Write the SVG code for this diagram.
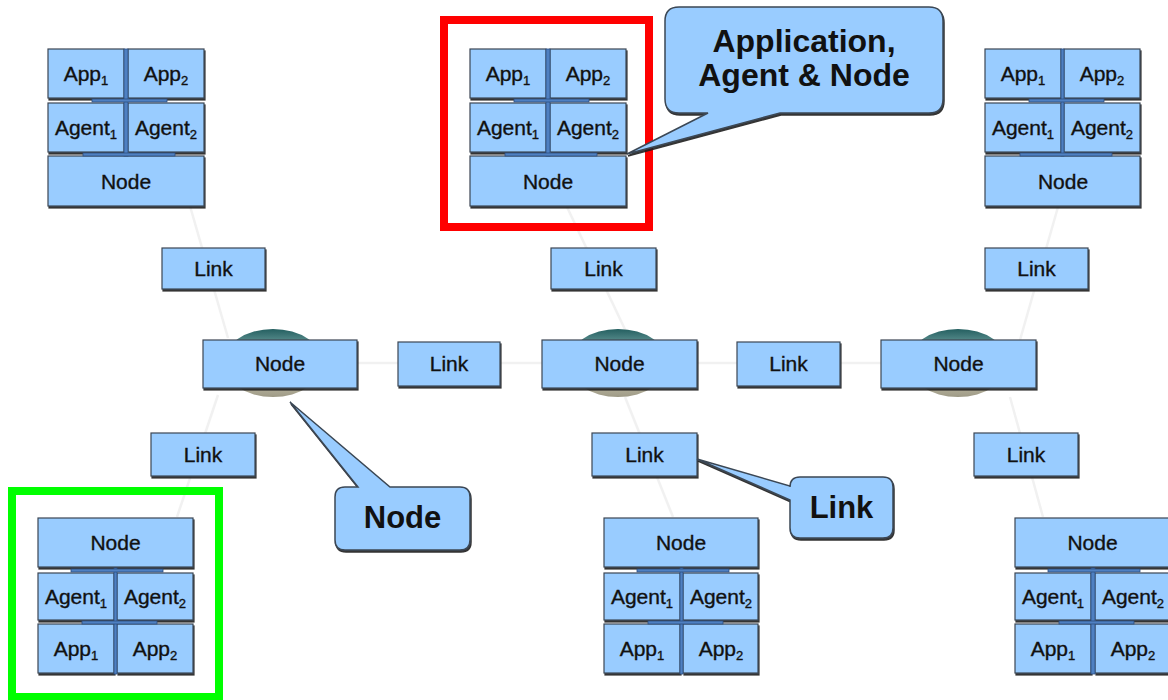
<svg xmlns="http://www.w3.org/2000/svg" width="1168" height="700" viewBox="0 0 1168 700">
<defs>
<filter id="ds" x="-5%" y="-5%" width="115%" height="125%"><feDropShadow dx="1" dy="2" stdDeviation="0.4" flood-color="#1e1e1e" flood-opacity="0.9"/></filter>
<linearGradient id="rg" x1="0" y1="0" x2="0" y2="1">
<stop offset="0" stop-color="#245f60"/><stop offset="0.25" stop-color="#6a9c9c"/><stop offset="0.6" stop-color="#d9d4bd"/><stop offset="1" stop-color="#9e9a86"/>
</linearGradient>
<style>
.box{fill:#9cf;stroke:#3b4754;stroke-width:1.2;filter:url(#ds)}
.bar{fill:#4f80c2;stroke:#2c4e80;stroke-width:0.8}
.t{font-family:"Liberation Sans",Arial,sans-serif;font-size:21px;fill:#111;stroke:#111;stroke-width:0.35;text-anchor:middle}
.s{font-size:13px}
.c{font-family:"Liberation Sans",Arial,sans-serif;font-weight:bold;fill:#111;text-anchor:middle}
.co{fill:#9cf;stroke:#3b4754;stroke-width:1.5;filter:url(#ds)}
.w{stroke:#f1f1f1;stroke-width:2.5;fill:none}
.rt{fill:url(#rg)}
</style>
</defs>
<rect width="1168" height="700" fill="#fff"/>

<g id="connectors">
<line class="w" x1="190" y1="206" x2="228" y2="338"/>
<line class="w" x1="567" y1="207" x2="630" y2="340"/>
<line class="w" x1="1058" y1="207" x2="1020" y2="340"/>
<line class="w" x1="218" y1="395" x2="177" y2="517"/>
<line class="w" x1="625" y1="397" x2="673" y2="517"/>
<line class="w" x1="1010" y1="397" x2="1043" y2="517"/>
<line class="w" x1="357" y1="363" x2="881" y2="363"/>
</g>

<g id="stack-top-left" transform="translate(48,49)">
<rect class="box" x="0" y="0" width="76" height="49"/>
<rect class="box" x="80" y="0" width="76" height="49"/>
<rect class="box" x="0" y="54" width="76" height="49"/>
<rect class="box" x="80" y="54" width="76" height="49"/>
<rect class="box" x="0" y="107" width="156" height="50"/>
<rect class="bar" x="76" y="0" width="4" height="107"/>
<rect class="bar" x="44" y="50" width="75" height="3"/>
<rect class="bar" x="35" y="104" width="92" height="3"/>
<text class="t" x="38" y="32">App<tspan class="s" dy="4">1</tspan></text>
<text class="t" x="118" y="32">App<tspan class="s" dy="4">2</tspan></text>
<text class="t" x="38" y="86">Agent<tspan class="s" dy="4">1</tspan></text>
<text class="t" x="118" y="86">Agent<tspan class="s" dy="4">2</tspan></text>
<text class="t" x="78" y="140">Node</text>
</g>

<g id="stack-top-middle" transform="translate(470,49)">
<rect class="box" x="0" y="0" width="76" height="49"/>
<rect class="box" x="80" y="0" width="76" height="49"/>
<rect class="box" x="0" y="54" width="76" height="49"/>
<rect class="box" x="80" y="54" width="76" height="49"/>
<rect class="box" x="0" y="107" width="156" height="50"/>
<rect class="bar" x="76" y="0" width="4" height="107"/>
<rect class="bar" x="44" y="50" width="75" height="3"/>
<rect class="bar" x="35" y="104" width="92" height="3"/>
<text class="t" x="38" y="32">App<tspan class="s" dy="4">1</tspan></text>
<text class="t" x="118" y="32">App<tspan class="s" dy="4">2</tspan></text>
<text class="t" x="38" y="86">Agent<tspan class="s" dy="4">1</tspan></text>
<text class="t" x="118" y="86">Agent<tspan class="s" dy="4">2</tspan></text>
<text class="t" x="78" y="140">Node</text>
</g>

<g id="stack-top-right" transform="translate(985,49)">
<rect class="box" x="0" y="0" width="76" height="49"/>
<rect class="box" x="79" y="0" width="76" height="49"/>
<rect class="box" x="0" y="54" width="76" height="49"/>
<rect class="box" x="79" y="54" width="76" height="49"/>
<rect class="box" x="0" y="107" width="155" height="50"/>
<rect class="bar" x="76" y="0" width="3" height="107"/>
<rect class="bar" x="44" y="50" width="75" height="3"/>
<rect class="bar" x="35" y="104" width="92" height="3"/>
<text class="t" x="38" y="32">App<tspan class="s" dy="4">1</tspan></text>
<text class="t" x="117" y="32">App<tspan class="s" dy="4">2</tspan></text>
<text class="t" x="38" y="86">Agent<tspan class="s" dy="4">1</tspan></text>
<text class="t" x="117" y="86">Agent<tspan class="s" dy="4">2</tspan></text>
<text class="t" x="78" y="140">Node</text>
</g>

<g id="link-top-left"><rect class="box" x="162" y="248" width="103" height="41"/><text class="t" x="213.5" y="276">Link</text></g>
<g id="link-top-middle"><rect class="box" x="551" y="248" width="105" height="41"/><text class="t" x="603.5" y="276">Link</text></g>
<g id="link-top-right"><rect class="box" x="985" y="248" width="103" height="41"/><text class="t" x="1036.5" y="276">Link</text></g>

<g id="node-mid-left"><ellipse class="rt" cx="273" cy="363" rx="50" ry="34"/><rect class="box" x="203" y="340" width="154" height="48"/><text class="t" x="280" y="371">Node</text></g>
<g id="link-mid-left"><rect class="box" x="398" y="342" width="102" height="44"/><text class="t" x="449" y="371">Link</text></g>
<g id="node-mid-center"><ellipse class="rt" cx="618" cy="363" rx="50" ry="34"/><rect class="box" x="542" y="340" width="155" height="48"/><text class="t" x="619.5" y="371">Node</text></g>
<g id="link-mid-right"><rect class="box" x="737" y="342" width="103" height="44"/><text class="t" x="788.5" y="371">Link</text></g>
<g id="node-mid-right"><ellipse class="rt" cx="958" cy="363" rx="50" ry="34"/><rect class="box" x="881" y="340" width="155" height="48"/><text class="t" x="958.5" y="371">Node</text></g>

<g id="link-bottom-left"><rect class="box" x="151" y="433" width="104" height="43"/><text class="t" x="203" y="462">Link</text></g>
<g id="link-bottom-middle"><rect class="box" x="592" y="433" width="105" height="43"/><text class="t" x="644.5" y="462">Link</text></g>
<g id="link-bottom-right"><rect class="box" x="974" y="433" width="104" height="43"/><text class="t" x="1026" y="462">Link</text></g>

<g id="stack-bottom-left" transform="translate(38,518)">
<rect class="box" x="0" y="0" width="155" height="49"/>
<rect class="box" x="0" y="55" width="76" height="47"/>
<rect class="box" x="79" y="55" width="76" height="47"/>
<rect class="box" x="0" y="106" width="76" height="49"/>
<rect class="box" x="79" y="106" width="76" height="49"/>
<rect class="bar" x="76" y="50" width="3" height="106"/>
<rect class="bar" x="33" y="51" width="92" height="3"/>
<rect class="bar" x="44" y="103" width="75" height="3"/>
<text class="t" x="77.5" y="32">Node</text>
<text class="t" x="38" y="86">Agent<tspan class="s" dy="4">1</tspan></text>
<text class="t" x="117" y="86">Agent<tspan class="s" dy="4">2</tspan></text>
<text class="t" x="38" y="138">App<tspan class="s" dy="4">1</tspan></text>
<text class="t" x="117" y="138">App<tspan class="s" dy="4">2</tspan></text>
</g>

<g id="stack-bottom-middle" transform="translate(604,518)">
<rect class="box" x="0" y="0" width="154" height="49"/>
<rect class="box" x="0" y="55" width="76" height="47"/>
<rect class="box" x="79" y="55" width="75" height="47"/>
<rect class="box" x="0" y="106" width="76" height="49"/>
<rect class="box" x="79" y="106" width="75" height="49"/>
<rect class="bar" x="76" y="50" width="3" height="106"/>
<rect class="bar" x="33" y="51" width="92" height="3"/>
<rect class="bar" x="44" y="103" width="75" height="3"/>
<text class="t" x="77" y="32">Node</text>
<text class="t" x="38" y="86">Agent<tspan class="s" dy="4">1</tspan></text>
<text class="t" x="117" y="86">Agent<tspan class="s" dy="4">2</tspan></text>
<text class="t" x="38" y="138">App<tspan class="s" dy="4">1</tspan></text>
<text class="t" x="117" y="138">App<tspan class="s" dy="4">2</tspan></text>
</g>

<g id="stack-bottom-right" transform="translate(1015,518)">
<rect class="box" x="0" y="0" width="155" height="49"/>
<rect class="box" x="0" y="55" width="76" height="47"/>
<rect class="box" x="80" y="55" width="76" height="47"/>
<rect class="box" x="0" y="106" width="76" height="49"/>
<rect class="box" x="80" y="106" width="76" height="49"/>
<rect class="bar" x="76" y="50" width="4" height="106"/>
<rect class="bar" x="33" y="51" width="92" height="3"/>
<rect class="bar" x="44" y="103" width="75" height="3"/>
<text class="t" x="77.5" y="32">Node</text>
<text class="t" x="38" y="86">Agent<tspan class="s" dy="4">1</tspan></text>
<text class="t" x="118" y="86">Agent<tspan class="s" dy="4">2</tspan></text>
<text class="t" x="38" y="138">App<tspan class="s" dy="4">1</tspan></text>
<text class="t" x="118" y="138">App<tspan class="s" dy="4">2</tspan></text>
</g>

<g id="highlight-red"><rect x="444" y="20" width="205" height="207" fill="none" stroke="#ff0000" stroke-width="8"/></g>
<g id="highlight-green"><rect x="12" y="491" width="207" height="206" fill="none" stroke="#00ff00" stroke-width="8"/></g>

<g id="callout-app">
<path class="co" d="M679,7 H929 Q943,7 943,21 V99 Q943,113 929,113 H780 L627,154 L708,113 H679 Q665,113 665,99 V21 Q665,7 679,7 Z"/>
<text class="c" x="804" y="52" font-size="32">Application,</text>
<text class="c" x="804" y="86" font-size="32">Agent &amp; Node</text>
</g>
<g id="callout-node">
<path class="co" d="M345,487 H358 L290,402 L390,487 H460 Q470,487 470,497 V540 Q470,550 460,550 H345 Q335,550 335,540 V497 Q335,487 345,487 Z"/>
<text class="c" x="402.5" y="528" font-size="31">Node</text>
</g>
<g id="callout-link">
<path class="co" d="M800,477 H883 Q893,477 893,487 V528 Q893,538 883,538 H800 Q790,538 790,528 V500 L697,459 L790,486 V487 Q790,477 800,477 Z"/>
<text class="c" x="841.5" y="518" font-size="31">Link</text>
</g>
</svg>
